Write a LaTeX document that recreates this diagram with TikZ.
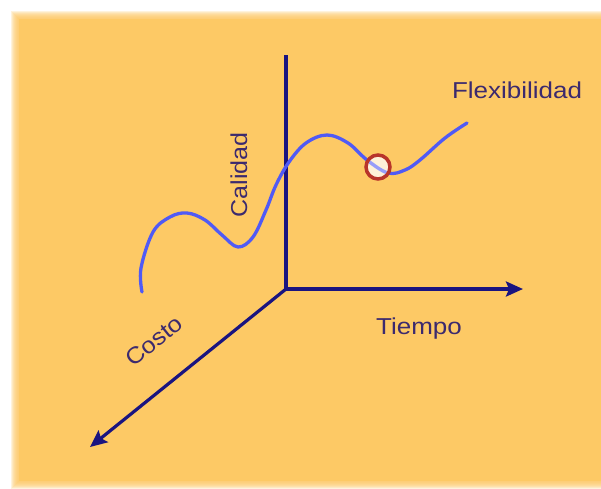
\documentclass[tikz,border=0pt]{standalone}
\usepackage{fontspec}
\setmainfont{Liberation Sans}
\usetikzlibrary{arrows.meta}
\definecolor{bgorange}{RGB}{253,201,101}
\definecolor{axisblue}{RGB}{26,20,128}
\definecolor{curveblue}{RGB}{80,90,245}
\definecolor{labelpurple}{RGB}{60,42,110}
\definecolor{ringred}{RGB}{184,52,42}
\tikzset{
  axisline/.style={draw=axisblue, line width=3.2pt, -{Stealth[length=17pt,width=15pt,inset=3pt]}},
  axisplain/.style={draw=axisblue, line width=3.2pt},
  curveline/.style={draw=curveblue, line width=3.3pt, line cap=round},
  axlabel/.style={text=labelpurple, font=\fontsize{23}{23}\selectfont, inner sep=0pt},
  marker/.style={circle, draw=ringred, line width=3.5pt, fill=white, fill opacity=0.75, draw opacity=1, minimum size=24pt, inner sep=0pt}
}
\begin{document}
\begin{tikzpicture}[x=1pt,y=-1pt]
\useasboundingbox (0,0) rectangle (601,488);
\fill[white] (0,0) rectangle (601,488);
% soft-edged background
\foreach \i in {0,...,7}{
  \fill[bgorange, opacity=0.22] (11+\i,11+\i) rectangle (601,489-\i);
}
\fill[bgorange] (19,19) rectangle (601,481);
% axes
\coordinate (O) at (286,289);
\coordinate (Ztop) at (286,55);
\coordinate (Xend) at (523,289);
\coordinate (Yend) at (90,447);
\draw[axisplain] (O) -- (Ztop);
\draw[axisline] (O) -- (Xend);
\draw[axisline] (O) -- (Yend);
% curve
\draw[curveline] plot[smooth, tension=0.6] coordinates {
  (142,292) (141,268) (153,232) (170,217) (187,213) (205,220) (222,235) (238,247)
  (253,237) (266,210) (276,185) (289,162) (306,143) (327,135) (348,143) (367,160)
  (388,173) (405,170) (420,160) (445,138) (467,123)};
\node[marker] (m) at (378,167) {};
\begin{scope}
\clip (378,167) circle (10pt);
\draw[curveline, opacity=0.45] plot[smooth, tension=0.6] coordinates {
  (327,135) (348,143) (367,160) (388,173) (405,170) (420,160)};
\end{scope}
% labels
\node[axlabel, anchor=base] (tiempo) at (419,334) {\scalebox{1.13}[1]{Tiempo}};
\node[axlabel, anchor=base] (flex) at (517,98) {\scalebox{1.13}[1]{Flexibilidad}};
\node[axlabel, rotate=90] (calidad) at (239,175) {\scalebox{1.09}[1]{Calidad}};
\node[axlabel, rotate=39] (costo) at (154,341) {\scalebox{1.1}[1]{Costo}};
\end{tikzpicture}
\end{document}
